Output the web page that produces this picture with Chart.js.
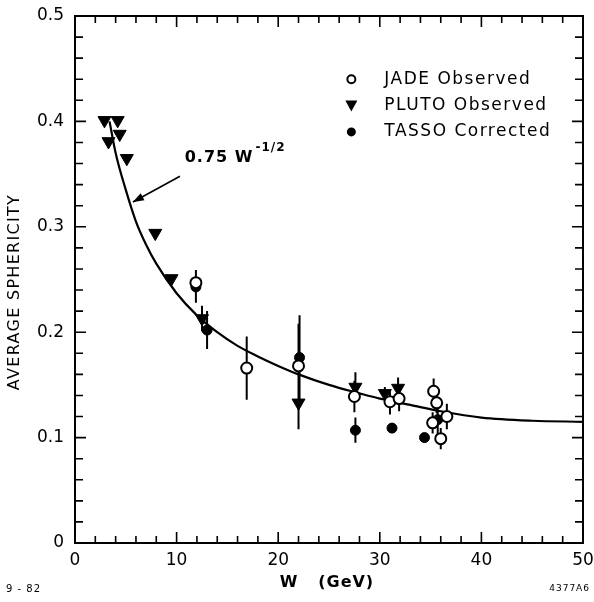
<!DOCTYPE html>
<html><head><meta charset="utf-8">
<script src="https://cdn.jsdelivr.net/npm/chart.js@4/dist/chart.umd.min.js"></script>
<style>html,body{margin:0;padding:0;background:#fff;}</style>
</head><body>
<canvas id="c" width="594" height="602" style="width:594px;height:602px;display:block"></canvas>
<script>
// ---- data ----
const jadeW   = [11.9, 16.9, 22.0, 27.5, 31.0, 31.9, 35.3, 35.6, 36.6, 35.2, 36.0];
const jadeS   = [0.247, 0.166, 0.168, 0.139, 0.134, 0.137, 0.144, 0.133, 0.120, 0.114, 0.099];
const jadeErr = [0.012, 0.030, 0.040, 0.015, 0.012, 0.012, 0.012, 0.010, 0.012, 0.010, 0.010];

const plutoW   = [2.9, 4.2, 3.3, 4.4, 5.1, 7.9, 9.5, 12.5, 22.0, 27.6, 30.5, 31.8];
const plutoS   = [0.401, 0.401, 0.381, 0.388, 0.365, 0.294, 0.251, 0.213, 0.133, 0.148, 0.142, 0.147];
const plutoErr = [0, 0, 0, 0, 0, 0, 0, 0.012, 0.025, 0.014, 0.006, 0.010];

const tassoW   = [11.9, 13.0, 22.1, 27.6, 31.2, 34.4, 35.7];
const tassoS   = [0.243, 0.202, 0.176, 0.107, 0.109, 0.100, 0.117];
const tassoErr = [0.015, 0.018, 0.040, 0.012, 0.004, 0.004, 0.014];

// curve 0.75 W^-1/2 as drawn in the figure
const curveW = [3.4, 4, 5, 6, 7, 8, 10, 12, 14, 16, 18, 20, 22, 25, 28, 30, 33, 36, 40, 45, 50];
const curveS = [0.400, 0.370, 0.335, 0.305, 0.283, 0.265, 0.237, 0.216, 0.200, 0.187, 0.177, 0.168, 0.160, 0.150, 0.142, 0.137, 0.131, 0.125, 0.119, 0.116, 0.115];

const xTickLabels = ['0', '10', '20', '30', '40', '50'];
const yTickLabels = ['0', '0.1', '0.2', '0.3', '0.4', '0.5'];
const legendLabels = ['JADE Observed', 'PLUTO Observed', 'TASSO Corrected'];
const curveLabel = ['0.75 W', '-1/2'];
const xTitle = 'W   (GeV)';
const yTitle = 'AVERAGE SPHERICITY';

const pts = (xs, ys) => xs.map((x, i) => ({x: x, y: ys[i]}));
const FONT = '"DejaVu Sans", sans-serif';

const deco = {
  id: 'deco',
  beforeDatasetsDraw(chart) {
    const ctx = chart.ctx, xs = chart.scales.x, ys = chart.scales.y;
    const X = v => xs.getPixelForValue(v), Y = v => ys.getPixelForValue(v);
    const a = chart.chartArea;
    ctx.save();
    ctx.strokeStyle = '#000';
    // frame
    ctx.lineWidth = 2;
    ctx.strokeRect(a.left, a.top, a.right - a.left, a.bottom - a.top);
    // inward ticks
    ctx.lineWidth = 1.6;
    ctx.beginPath();
    for (let v = 2; v < 50; v += 2) {
      const L = (v % 10 === 0) ? 11 : 7;
      const x = X(v);
      ctx.moveTo(x, a.bottom); ctx.lineTo(x, a.bottom - L);
      ctx.moveTo(x, a.top); ctx.lineTo(x, a.top + L);
    }
    for (let k = 1; k < 25; k++) {
      const v = k * 0.02;
      const L = (k % 5 === 0) ? 11 : 8;
      const y = Y(v);
      ctx.moveTo(a.left, y); ctx.lineTo(a.left + L, y);
      ctx.moveTo(a.right, y); ctx.lineTo(a.right - L, y);
    }
    ctx.stroke();
    // error bars
    ctx.lineWidth = 2;
    ctx.beginPath();
    const eb = (ws, ss, es) => ws.forEach((w, i) => {
      if (!es[i]) return;
      ctx.moveTo(X(w), Y(ss[i] - es[i])); ctx.lineTo(X(w), Y(ss[i] + es[i]));
    });
    eb(jadeW, jadeS, jadeErr); eb(plutoW, plutoS, plutoErr); eb(tassoW, tassoS, tassoErr);
    ctx.stroke();
    ctx.restore();
  },
  afterDatasetsDraw(chart) {
    const ctx = chart.ctx, xs = chart.scales.x, ys = chart.scales.y;
    const X = v => xs.getPixelForValue(v), Y = v => ys.getPixelForValue(v);
    const a = chart.chartArea;
    ctx.save();
    ctx.fillStyle = '#000'; ctx.strokeStyle = '#000';
    // annotation arrow
    const x1 = X(10.33), y1 = Y(0.348), x2 = X(5.7), y2 = Y(0.3236);
    ctx.lineWidth = 1.6;
    ctx.beginPath(); ctx.moveTo(x1, y1); ctx.lineTo(x2, y2); ctx.stroke();
    const ang = Math.atan2(y2 - y1, x2 - x1);
    ctx.beginPath();
    ctx.moveTo(x2, y2);
    ctx.lineTo(x2 - 11 * Math.cos(ang) + 4 * Math.sin(ang), y2 - 11 * Math.sin(ang) - 4 * Math.cos(ang));
    ctx.lineTo(x2 - 11 * Math.cos(ang) - 4 * Math.sin(ang), y2 - 11 * Math.sin(ang) + 4 * Math.cos(ang));
    ctx.closePath(); ctx.fill();
    // annotation text
    ctx.font = 'bold 16px ' + FONT;
    ctx.textBaseline = 'alphabetic'; ctx.textAlign = 'left';
    ctx.letterSpacing = '1px';
    const tx = X(10.8), ty = Y(0.3615);
    ctx.fillText(curveLabel[0], tx, ty);
    const w0 = ctx.measureText(curveLabel[0]).width;
    ctx.font = 'bold 12px ' + FONT;
    ctx.fillText(curveLabel[1], tx + w0 + 2, ty - 11);
    // legend
    const lx = X(27.2), rows = [0.440, 0.415, 0.390];
    ctx.font = '17px ' + FONT;
    ctx.letterSpacing = '1.5px';
    ctx.textBaseline = 'middle';
    rows.forEach((r, i) => {
      const y = Y(r);
      ctx.beginPath();
      if (i === 0) {
        ctx.lineWidth = 2; ctx.arc(lx, y, 4, 0, 2 * Math.PI); ctx.stroke();
      } else if (i === 1) {
        ctx.moveTo(lx - 6, y - 5); ctx.lineTo(lx + 6, y - 5); ctx.lineTo(lx, y + 6); ctx.closePath(); ctx.fill();
      } else {
        ctx.arc(lx, y, 4.5, 0, 2 * Math.PI); ctx.fill();
      }
      ctx.fillText(legendLabels[i], lx + 33, y);
    });
    // axis titles
    ctx.textAlign = 'center';
    ctx.font = 'bold 16px ' + FONT;
    ctx.letterSpacing = '1px';
    ctx.fillText(xTitle, (a.left + a.right) / 2 - 2, 583);
    ctx.save();
    ctx.translate(15, 292);
    ctx.rotate(-Math.PI / 2);
    ctx.font = '16px ' + FONT;
    ctx.letterSpacing = '1.3px';
    ctx.fillText(yTitle, 0, 0);
    ctx.restore();
    // footer marks
    ctx.letterSpacing = '1px';
    ctx.font = '10px ' + FONT;
    ctx.textAlign = 'left';
    ctx.fillText('9 - 82', 6, 589);
    ctx.textAlign = 'right';
    ctx.font = '9px ' + FONT;
    ctx.fillText('4377A6', 590, 589);
    ctx.restore();
  }
};

new Chart(document.getElementById('c'), {
  data: {
    datasets: [
      { type: 'scatter', label: legendLabels[0], data: pts(jadeW, jadeS),
        pointStyle: 'circle', pointRadius: 5.5, pointBackgroundColor: '#fff', pointBorderColor: '#000', pointBorderWidth: 2, order: 0 },
      { type: 'scatter', label: legendLabels[2], data: pts(tassoW, tassoS),
        pointStyle: 'circle', pointRadius: 5, pointBackgroundColor: '#000', pointBorderColor: '#000', pointBorderWidth: 1, order: 1 },
      { type: 'scatter', label: legendLabels[1], data: pts(plutoW, plutoS),
        pointStyle: 'triangle', pointRotation: 180, pointRadius: 7.5, pointBackgroundColor: '#000', pointBorderColor: '#000', pointBorderWidth: 1, order: 2 },
      { type: 'line', label: 'fit', data: pts(curveW, curveS), borderColor: '#000', borderWidth: 2.2,
        pointRadius: 0, tension: 0.4, cubicInterpolationMode: 'monotone', fill: false, order: 3 }
    ]
  },
  options: {
    responsive: false, animation: false, devicePixelRatio: 1,
    layout: { padding: { top: 16, right: 11, left: 0, bottom: 0 } },
    plugins: { legend: { display: false }, tooltip: { enabled: false } },
    scales: {
      x: {
        type: 'linear', min: 0, max: 50,
        grid: { display: false, drawTicks: false }, border: { display: false },
        ticks: { stepSize: 10, padding: 7, color: '#000', font: { family: FONT, size: 17 },
                 maxRotation: 0, callback: (v) => xTickLabels[Math.round(v / 10)] },
        title: { display: false },
        afterFit: (s) => { s.height = 59; s.paddingRight = 0; s.paddingLeft = 0; }
      },
      y: {
        type: 'linear', min: 0, max: 0.5,
        grid: { display: false, drawTicks: false }, border: { display: false },
        ticks: { stepSize: 0.1, padding: 11, color: '#000', font: { family: FONT, size: 17 },
                 callback: (v) => yTickLabels[Math.round(v * 10)] },
        title: { display: false },
        afterFit: (s) => { s.width = 75; s.paddingTop = 0; s.paddingBottom = 0; }
      }
    }
  },
  plugins: [deco]
});
</script>
</body></html>
